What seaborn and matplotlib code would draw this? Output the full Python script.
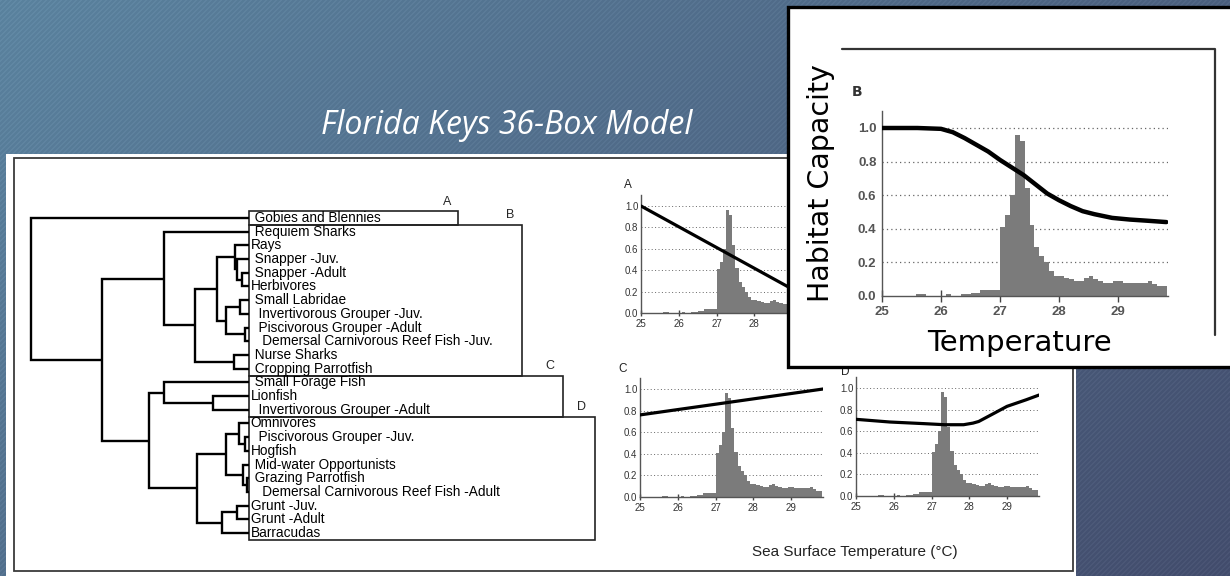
import numpy as np
import pandas as pd
import matplotlib
matplotlib.use("Agg")
import matplotlib.pyplot as plt
import seaborn as sns
from matplotlib.patches import Rectangle
from matplotlib.transforms import blended_transform_factory

# ------------------------------
# Data
# ------------------------------

SPECIES = [
    " Gobies and Blennies", " Requiem Sharks", "Rays", " Snapper -Juv.",
    " Snapper -Adult", "Herbivores", " Small Labridae",
    "  Invertivorous Grouper -Juv.", "  Piscivorous Grouper -Adult",
    "   Demersal Carnivorous Reef Fish -Juv.", " Nurse Sharks",
    " Cropping Parrotfish", " Small Forage Fish", "Lionfish",
    "  Invertivorous Grouper -Adult", "Omnivores", "  Piscivorous Grouper -Juv.",
    "Hogfish", " Mid-water Opportunists", " Grazing Parrotfish",
    "   Demersal Carnivorous Reef Fish -Adult", "Grunt -Juv.", "Grunt -Adult",
    "Barracudas",
]

# linkage rows: (child a, child b, distance); new node ids start at len(SPECIES)
MERGES = [
    (4, 5, 0.032), (3, 24, 0.055), (2, 25, 0.064),
    (6, 7, 0.041), (8, 9, 0.018), (27, 28, 0.106),
    (26, 29, 0.147), (10, 11, 0.069), (30, 31, 0.248),
    (1, 32, 0.390), (13, 14, 0.165), (12, 34, 0.390),
    (16, 17, 0.018), (15, 36, 0.046), (19, 20, 0.009),
    (18, 38, 0.028), (37, 39, 0.106), (21, 22, 0.055),
    (41, 23, 0.124), (40, 42, 0.239), (35, 43, 0.459),
    (33, 44, 0.674), (0, 45, 1.000),
]

GROUP_NAMES = ["A", "B", "C", "D"]
GROUP_FIRST = [0, 1, 12, 15]
GROUP_LAST = [0, 11, 14, 23]

# sea surface temperature frequency, bins of 1/12 degree starting at 25.0
SST_BIN_START = 25.0
SST_BIN_WIDTH = 1.0 / 12.0
SST_FREQ = [
    0, 0, 0, 0, 0, 0, 0, 0.01, 0.01, 0, 0, 0, 0, 0.01, 0, 0,
    0.01, 0.01, 0.015, 0.02, 0.035, 0.035, 0.035, 0.035,
    0.41, 0.48, 0.60, 0.96, 0.92, 0.64, 0.42, 0.29, 0.24, 0.20, 0.15, 0.12,
    0.12, 0.11, 0.10, 0.09, 0.09, 0.11, 0.12, 0.10, 0.09, 0.08, 0.08, 0.09,
    0.09, 0.08, 0.08, 0.08, 0.08, 0.08, 0.09, 0.07, 0.06, 0.06,
]

CAP_A_T = [25.0, 29.85]
CAP_A = [1.0, 0.06]
CAP_B_T = [25.0, 25.6, 26.0, 26.2, 26.4, 26.6, 26.8, 27.0, 27.2, 27.4, 27.6,
           27.8, 28.0, 28.2, 28.4, 28.6, 28.9, 29.2, 29.5, 29.82]
CAP_B = [1.0, 1.0, 0.995, 0.975, 0.94, 0.90, 0.86, 0.81, 0.765, 0.72, 0.665,
         0.61, 0.57, 0.535, 0.505, 0.487, 0.465, 0.455, 0.448, 0.44]
CAP_C_T = [25.0, 29.85]
CAP_C = [0.76, 1.0]
CAP_D_T = [25.0, 25.9, 26.8, 27.35, 27.85, 28.1, 28.25, 28.6, 29.0, 29.5, 29.85]
CAP_D = [0.71, 0.685, 0.67, 0.66, 0.66, 0.675, 0.69, 0.755, 0.83, 0.89, 0.935]

Y_TICKS = [0.0, 0.2, 0.4, 0.6, 0.8, 1.0]
X_TICKS = [25, 26, 27, 28, 29]

# ------------------------------
# Layout helpers (pixel space of the 1230x576 slide)
# ------------------------------

W, H = 1230, 576
sns.set_theme(style="white")
plt.rcParams["font.family"] = ["DejaVu Sans"]

fig = plt.figure(figsize=(W / 100, H / 100), dpi=100)


def px_rect(x0, y0, x1, y1):
    return [x0 / W, 1 - y1 / H, (x1 - x0) / W, (y1 - y0) / H]


def px_axes(zorder):
    ax = fig.add_axes([0, 0, 1, 1], zorder=zorder)
    ax.set_xlim(0, W)
    ax.set_ylim(H, 0)
    ax.set_facecolor("none")
    ax.axis("off")
    return ax


# ------------------------------
# Slide background + white figure panel
# ------------------------------

ax_bg = px_axes(0)
yy, xx = np.mgrid[0:H, 0:W]
t = 0.65 * xx / W + 0.35 * yy / H
c0 = np.array([90, 130, 158]) / 255
c1 = np.array([66, 76, 108]) / 255
bg = c0[None, None, :] + (c1 - c0)[None, None, :] * t[..., None]
stripe = ((xx + yy) % 5 < 2).astype(float)[..., None] * 0.03
bg = np.clip(bg + stripe, 0, 1)
ax_bg.imshow(bg, extent=(0, W, H, 0), aspect="auto", zorder=0)
ax_bg.set_xlim(0, W)
ax_bg.set_ylim(H, 0)

ax_bg.add_patch(Rectangle((6, 154), 1070, 422, facecolor="white", edgecolor="none", zorder=1))
ax_bg.add_patch(Rectangle((14, 158), 1059, 413, facecolor="none", edgecolor="#3a3a3a", lw=1.3, zorder=2))

ax_bg.text(507, 125, "Florida Keys 36-Box Model", fontsize=23, style="italic",
           color="white", family=["Open Sans", "DejaVu Sans"], ha="center", va="center", zorder=3)

ax_bg.text(855, 552, "Sea Surface Temperature (\u00b0C)", fontsize=11, color="#222222",
           family=["Liberation Sans", "DejaVu Sans"], ha="center", va="center", zorder=3)
for name, (x, y) in zip(["A", "C", "D"], [(628, 185), (623, 369), (845, 372)]):
    ax_bg.text(x, y, name, fontsize=8.5, color="#222222", family=["Liberation Sans"],
               ha="center", va="center", zorder=3)

# ------------------------------
# Dendrogram
# ------------------------------

row = 13.71
ax_tree = fig.add_axes(px_rect(31, 218 - row / 2, 249, 533 + row / 2), zorder=1)
ax_tree.set_facecolor("none")
ax_tree.axis("off")
ax_tree.set_xlim(1.0, 0.0)
ax_tree.set_ylim(len(SPECIES) - 0.5, -0.5)

pos = {i: float(i) for i in range(len(SPECIES))}
hgt = {i: 0.0 for i in range(len(SPECIES))}
for k, (a, b, h) in enumerate(MERGES):
    ax_tree.plot([hgt[a], h, h, hgt[b]], [pos[a], pos[a], pos[b], pos[b]],
                 color="black", lw=1.7, solid_capstyle="butt", solid_joinstyle="miter", clip_on=False)
    nid = len(SPECIES) + k
    pos[nid] = (pos[a] + pos[b]) / 2
    hgt[nid] = h

for i, name in enumerate(SPECIES):
    ax_tree.annotate(name, xy=(0, i), xytext=(1.2, 0), textcoords="offset points",
                     ha="left", va="center", fontsize=9.8, color="black",
                     family=["Liberation Sans", "DejaVu Sans"], annotation_clip=False)

trans = blended_transform_factory(ax_bg.transData, ax_tree.transData)
box_right = [458, 522, 563, 595]
label_x = [447, 510, 550, 581]
for name, first, last, xr, lx in zip(GROUP_NAMES, GROUP_FIRST, GROUP_LAST, box_right, label_x):
    ax_tree.add_patch(Rectangle((249, first - 0.5), xr - 249, last - first + 1, transform=trans,
                                facecolor="none", edgecolor="#222222", lw=1.2, clip_on=False))
    ax_tree.annotate(name, xy=(lx, first - 0.5), xycoords=trans, xytext=(0, 2.5),
                     textcoords="offset points", ha="center", va="bottom", fontsize=9,
                     family=["Liberation Sans", "DejaVu Sans"], annotation_clip=False)

# ------------------------------
# Habitat capacity panels
# ------------------------------

n_bins = len(SST_FREQ)
bin_end = SST_BIN_START + SST_BIN_WIDTH * n_bins
sst_df = pd.DataFrame({
    "temp": SST_BIN_START + SST_BIN_WIDTH * (np.arange(n_bins) + 0.5),
    "freq": SST_FREQ,
})


def sst_panel(rect, temps, cap, zorder, big=False):
    ax = fig.add_axes(rect, zorder=zorder)
    ax.set_facecolor("white")
    for yv in Y_TICKS[1:]:
        ax.axhline(yv, color="#666666", lw=0.9 if big else 0.7, ls=(0, (1, 2.5)), zorder=0.5)
    sns.histplot(data=sst_df, x="temp", weights="freq", bins=n_bins,
                 binrange=(SST_BIN_START, bin_end), element="step", fill=True,
                 color="#7b7b7b", alpha=1, linewidth=0, ax=ax)
    sns.lineplot(x=temps, y=cap, color="black", lw=3.2 if big else 2.3, ax=ax, zorder=3)
    ax.set_xlim(25, 29.85)
    ax.set_ylim(0, 1.1)
    ax.set_xticks(X_TICKS)
    ax.set_yticks(Y_TICKS)
    ax.set_yticklabels([f"{v:.1f}" for v in Y_TICKS])
    ax.set_xlabel("")
    ax.set_ylabel("")
    sns.despine(ax=ax)
    for s in ["left", "bottom"]:
        ax.spines[s].set_color("#555555")
        ax.spines[s].set_linewidth(1.0)
    fs = 9.5 if big else 7
    lab_col = "#555555" if big else "#333333"
    ax.tick_params(axis="x", direction="inout", length=9 if big else 5, width=1, color="#444444",
                   labelsize=fs, labelcolor=lab_col, pad=3 if big else 2, bottom=True)
    ax.tick_params(axis="y", length=0, labelsize=fs, labelcolor=lab_col, pad=4 if big else 2)
    for lab in ax.get_xticklabels() + ax.get_yticklabels():
        lab.set_family(["Liberation Sans", "DejaVu Sans"])
        if big:
            lab.set_fontweight("bold")
    return ax


sst_panel(px_rect(641, 313 - 1.1 * 107, 641 + 4.85 * 37.75, 313), CAP_A_T, CAP_A, 2)
sst_panel(px_rect(640, 497 - 1.1 * 108, 640 + 4.85 * 37.75, 497), CAP_C_T, CAP_C, 2)
sst_panel(px_rect(856, 496 - 1.1 * 108, 856 + 4.85 * 37.75, 496), CAP_D_T, CAP_D, 2)

# ------------------------------
# Enlarged panel B
# ------------------------------

ax_top = px_axes(5)
ax_top.add_patch(Rectangle((788, 7), 450, 360, facecolor="white", edgecolor="black", lw=2.4))
ax_top.plot([842, 1215, 1215], [49, 49, 335], color="#333333", lw=1.6)
ax_top.text(857, 92, "B", fontsize=10, fontweight="bold", color="#333333", ha="center", va="center")
ax_top.text(821, 183, "Habitat Capacity", fontsize=20.5, rotation=90, color="black",
            ha="center", va="center")
ax_top.text(1019, 343, "Temperature", fontsize=21, color="black", ha="center", va="center")

sst_panel(px_rect(882, 296 - 1.1 * 168, 882 + 4.85 * 59, 296), CAP_B_T, CAP_B, 6, big=True)

fig.savefig("out.png", dpi=100)
